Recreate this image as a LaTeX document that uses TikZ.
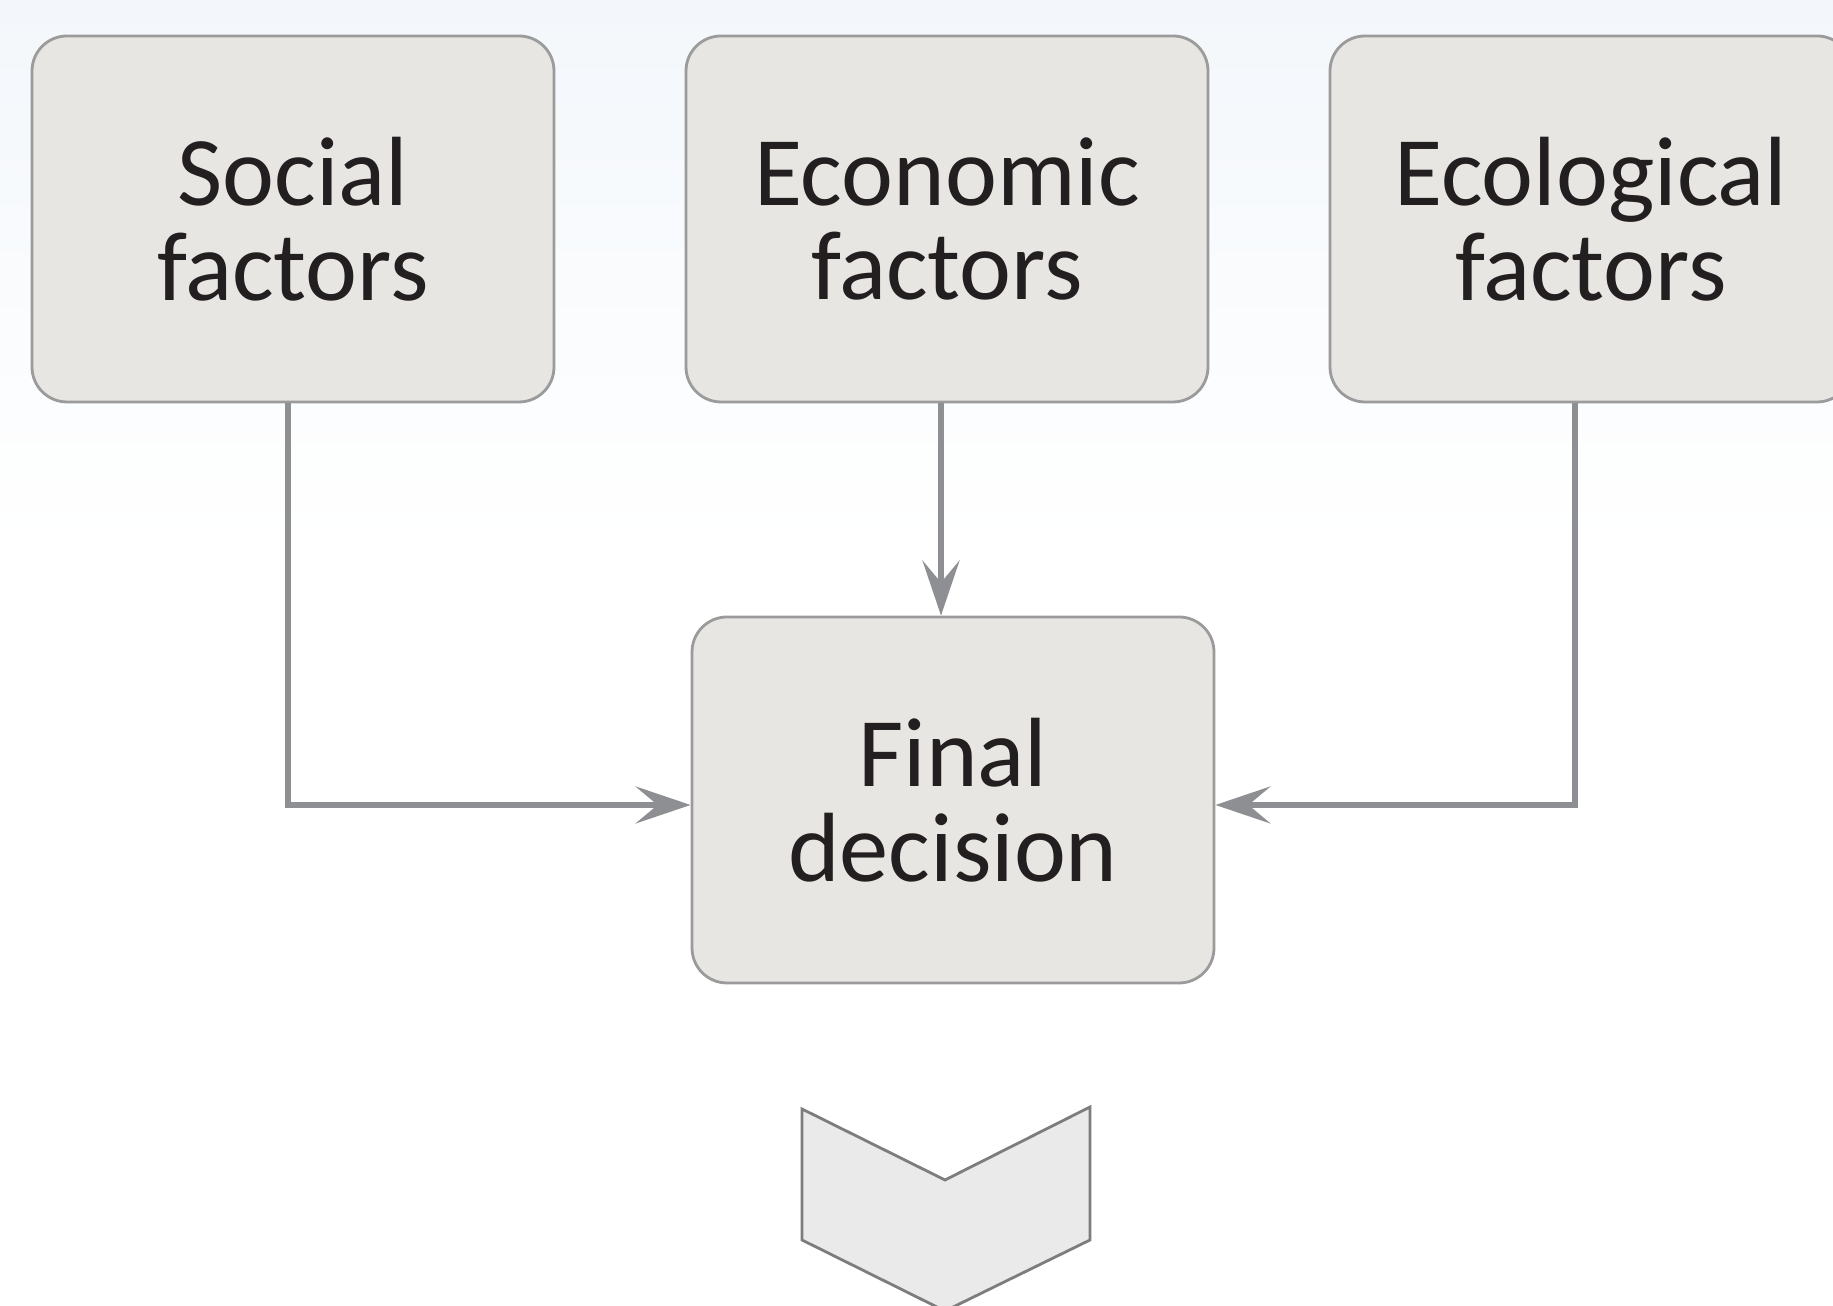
\documentclass[tikz,border=0pt]{standalone}
\usepackage{fontspec}
\setmainfont{Carlito}
\usetikzlibrary{arrows.meta}
\definecolor{boxfill}{HTML}{E8E6E3}
\definecolor{boxline}{HTML}{9B9B9B}
\definecolor{arrowgray}{HTML}{8E8F92}
\definecolor{textdark}{HTML}{231F20}
\definecolor{skyfade}{HTML}{F3F7FB}
\definecolor{chevfill}{HTML}{EAEAEA}
\definecolor{chevline}{HTML}{7D7D7D}
\begin{document}
\begin{tikzpicture}[>={Stealth[length=5.5mm,width=3.7mm,inset=2.2mm]}, font=\fontsize{28}{27}\selectfont]
        \tikzset{box/.style={draw=boxline, line width=0.8pt, fill=boxfill, rounded corners=3.5mm, minimum width=5.22cm, minimum height=3.66cm, align=center, text=textdark}}
        \tikzset{link/.style={draw=arrowgray, line width=1.8pt}}
        \clip (0,0) rectangle (18.33,13.06);
        \shade[top color=skyfade, bottom color=white] (0,13.06) rectangle (18.33,7.6);
        \node[box] (social) at (2.93,10.87) {Social\\factors};
        \node[box] (economic) at (9.47,10.87) {Economic\\factors};
        \node[box] (ecological) at (15.91,10.87) {Ecological\\factors};
        \node[box] (final) at (9.53,5.06) {Final\\decision};
        \draw[link, ->] ([xshift=-0.5mm]social.south) |- ([yshift=-0.5mm]final.west);
        \draw[link, ->] ([xshift=-0.6mm]economic.south) -- ([xshift=-0.6mm]economic.south |- final.north);
        \draw[link, ->] ([xshift=-1.6mm]ecological.south) |- ([yshift=-0.5mm]final.east);
        % next-step chevron
        \draw[chevline, fill=chevfill, line width=0.8pt] (8.02,1.97) -- (9.45,1.26) -- (10.90,1.99) -- (10.90,0.66) -- (9.45,-0.05) -- (8.02,0.66) -- cycle;
    \end{tikzpicture}
\end{document}
